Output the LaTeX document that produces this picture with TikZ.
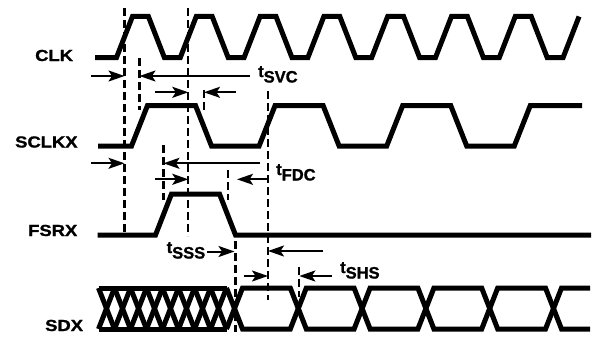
\documentclass[tikz,border=0pt]{standalone}
\usepackage{fontspec}
\setmainfont{Liberation Sans}[FakeBold=1.2]
\usepackage{graphicx}
\usetikzlibrary{arrows.meta}
\tikzset{
  sigline/.style={line width=5pt},
  guide/.style={line width=2.2pt, dash pattern=on 8pt off 4pt},
  dimarrow/.style={line width=2pt, -{Stealth[length=16pt,width=11pt,inset=3.5pt]}},
  sig/.style={anchor=base west, inner sep=0pt, font=\fontsize{16}{16}\selectfont\bfseries},
  tlab/.style={anchor=base west, inner sep=0pt, font=\fontsize{16.5}{16.5}\selectfont\bfseries},
}
\newcommand\tsub[1]{t\raisebox{-5.5pt}{#1}}
\newcommand\sigtxt[1]{\scalebox{1.15}[1]{#1}}
\begin{document}
\begin{tikzpicture}[x=1pt,y=-1pt]
\useasboundingbox (0,0) rectangle (593,337);

% signal names
\node[sig] (clk)   at (35,61)    {\sigtxt{CLK}};
\node[sig] (sclkx) at (15,147.5) {\sigtxt{SCLKX}};
\node[sig] (fsrx)  at (28,236)   {\sigtxt{FSRX}};
\node[sig] (sdx)   at (45,331)   {\sigtxt{SDX}};

% timing labels
\node[tlab] (tsvc) at (258,77)  {\tsub{SVC}};
\node[tlab] (tfdc) at (276,175) {\tsub{FDC}};
\node[tlab] (tsss) at (166.5,253) {\tsub{SSS}};
\node[tlab] (tshs) at (340,273) {\tsub{SHS}};

% dashed guide lines
\draw[guide] (124.5,8) -- (124.5,233);
\draw[guide] (188.3,8) -- (188.3,236);
\draw[guide] (139.5,58) -- (139.5,110);
\draw[guide] (204,90) -- (204,110);
\draw[guide] (163.5,145) -- (163.5,200);
\draw[guide] (268,91) -- (268,300);
\draw[guide] (228,170) -- (228,200);
\draw[guide] (235.5,241) -- (235.5,332);
\draw[guide] (299.3,267) -- (299.3,297);

% CLK
\draw[sigline] (95,57.5) -- (116.5,57.5)
  \foreach \k in {0,...,6} { -- ++(15.95,-41) -- ++(15.95,0) -- ++(15.95,41) -- ++(15.95,0) }
  -- ++(15.95,-41);

% SCLKX
\draw[sigline] (98,146) -- (131.5,146)
  \foreach \k in {0,1,2} { -- ++(16,-40.5) -- ++(48,0) -- ++(16,40.5) -- ++(47.6,0) }
  -- ++(16,-40.5) -- (582,105.5);

% FSRX
\draw[sigline] (97.7,235) -- (155.5,235) -- (171.5,194) -- (219.5,194) -- (235.5,235) -- (591,235);

% SDX hatched region
\draw[sigline] (98.5,288) -- (226.5,288);
\draw[sigline] (98.5,329) -- (226.5,329);
\foreach \k in {0,...,7} {
  \draw[sigline] (98.5+16*\k,288) -- (114.5+16*\k,329);
  \draw[sigline] (98.5+16*\k,329) -- (114.5+16*\k,288);
}
% SDX eye region
\draw[sigline] (226.5,288) -- (242.5,329) -- (290.3,329) -- (306.3,288) -- (354.1,288) -- (370.1,329)
  -- (417.9,329) -- (433.9,288) -- (481.7,288) -- (497.7,329) -- (545.5,329) -- (561.5,288) -- (590,288);
\draw[sigline] (226.5,329) -- (242.5,288) -- (290.3,288) -- (306.3,329) -- (354.1,329) -- (370.1,288)
  -- (417.9,288) -- (433.9,329) -- (481.7,329) -- (497.7,288) -- (545.5,288) -- (561.5,329) -- (590,329);

% dimension arrows
\draw[dimarrow] (91,76) -- (124.5,76);
\draw[dimarrow] (250,76) -- (139.5,76);
\draw[dimarrow] (155,92.3) -- (188.3,92.3);
\draw[dimarrow] (235.5,92.3) -- (204,92.3);
\draw[dimarrow] (91,163.3) -- (124.5,163.3);
\draw[dimarrow] (260,163.3) -- (163.5,163.3);
\draw[dimarrow] (155,179.3) -- (188.3,179.3);
\draw[dimarrow] (268,179.3) -- (237,179.3);
\draw[dimarrow] (207,251.5) -- (234.5,251.5);
\draw[dimarrow] (323.3,251) -- (268,251);
\draw[dimarrow] (243.5,276) -- (268,276);
\draw[dimarrow] (332,276) -- (299.3,276);
\end{tikzpicture}
\end{document}
